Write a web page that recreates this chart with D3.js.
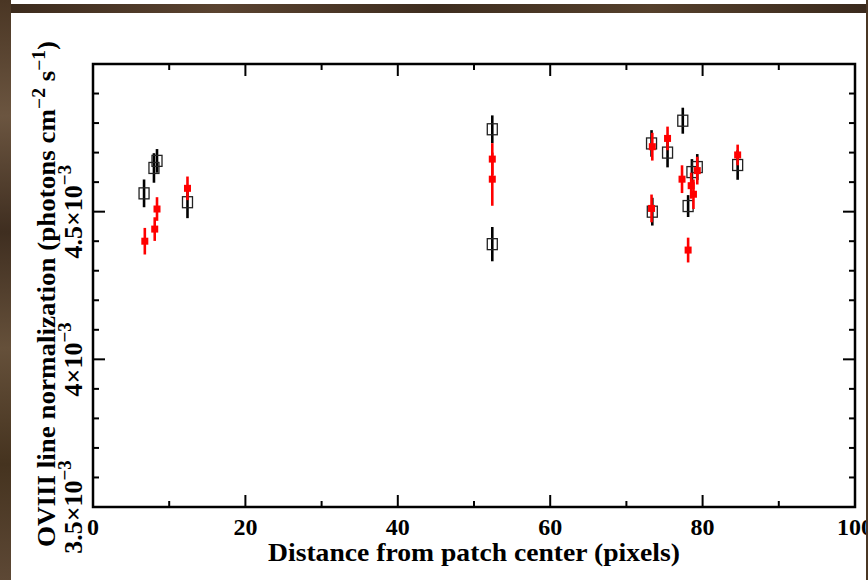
<!DOCTYPE html>
<html>
<head>
<meta charset="utf-8">
<script src="https://cdn.jsdelivr.net/npm/d3@7"></script>
<style>
  body { margin: 0; background: #fff; }
  svg text { font-family: "Liberation Serif", "DejaVu Serif", serif; font-weight: bold; fill: #000; }
</style>
</head>
<body>
<div id="chart"></div>
<script>
// black open squares: distance (pixels), normalization (1e-3), error (1e-3)
const blackX   = [6.7, 8.0, 8.4, 12.4, 52.4, 52.4, 77.4, 73.3, 75.4, 73.4, 78.1, 78.6, 79.3, 84.6]
const blackY   = [4.562, 4.648, 4.672, 4.532, 4.779, 4.390, 4.808, 4.731, 4.700, 4.500, 4.519, 4.634, 4.651, 4.658]
const blackErr = [0.047, 0.050, 0.040, 0.054, 0.047, 0.058, 0.044, 0.045, 0.050, 0.047, 0.037, 0.044, 0.044, 0.050]

// red filled squares
const redX   = [6.8, 8.4, 8.1, 12.4, 52.4, 52.4, 73.4, 75.4, 73.3, 77.3, 78.5, 78.8, 79.3, 78.1, 84.6]
const redY   = [4.400, 4.509, 4.441, 4.579, 4.678, 4.610, 4.720, 4.748, 4.511, 4.610, 4.588, 4.559, 4.639, 4.370, 4.692]
const redErr = [0.045, 0.040, 0.040, 0.040, 0.054, 0.090, 0.047, 0.040, 0.047, 0.047, 0.044, 0.050, 0.047, 0.042, 0.035]

const xMajorTicks = [0, 20, 40, 60, 80, 100]
const yMajorTicks = [3.5, 4, 4.5]
const yTickLabels = ['3.5×10', '4×10', '4.5×10']

const WIDTH = 868, HEIGHT = 580
const MARGIN = { top: 64, right: 13, bottom: 73, left: 93 }
const W = WIDTH - MARGIN.left - MARGIN.right
const H = HEIGHT - MARGIN.top - MARGIN.bottom

const svg = d3.select('#chart').append('svg').attr('width', WIDTH).attr('height', HEIGHT)

const x = d3.scaleLinear().domain([0, 100]).range([0, W])
const y = d3.scaleLinear().domain([3.5, 5.0]).range([H, 0])

const g = svg.append('g').attr('transform', `translate(${MARGIN.left},${MARGIN.top})`)

// ── ticks (inside, all four sides) ───────────────────────────────
const xMinor = d3.range(0, 101, 10)
const yMinor = d3.range(3.5, 5.0001, 0.1)
const tickStroke = (sel) => sel.attr('stroke', '#000').attr('stroke-width', 2)

g.selectAll('.xt').data(xMinor).join('line').attr('class', 'xt')
  .attr('x1', d => x(d)).attr('x2', d => x(d))
  .attr('y1', H).attr('y2', d => H - (d % 20 === 0 ? 12 : 6)).call(tickStroke)
g.selectAll('.xtt').data(xMinor).join('line').attr('class', 'xtt')
  .attr('x1', d => x(d)).attr('x2', d => x(d))
  .attr('y1', 0).attr('y2', d => (d % 20 === 0 ? 12 : 6)).call(tickStroke)

const isMajorY = d => Math.abs(d * 2 - Math.round(d * 2)) < 1e-6
g.selectAll('.yt').data(yMinor).join('line').attr('class', 'yt')
  .attr('y1', d => y(d)).attr('y2', d => y(d))
  .attr('x1', 0).attr('x2', d => (isMajorY(d) ? 12 : 6)).call(tickStroke)
g.selectAll('.ytr').data(yMinor).join('line').attr('class', 'ytr')
  .attr('y1', d => y(d)).attr('y2', d => y(d))
  .attr('x1', W).attr('x2', d => W - (isMajorY(d) ? 12 : 6)).call(tickStroke)

// frame
g.append('rect').attr('width', W).attr('height', H)
  .attr('fill', 'none').attr('stroke', '#000').attr('stroke-width', 2.5)

// ── tick labels ──────────────────────────────────────────────────
g.selectAll('.xl').data(xMajorTicks).join('text').attr('class', 'xl')
  .attr('x', d => x(d)).attr('y', H + 28)
  .attr('text-anchor', 'middle').style('font-size', '24px').text(d => d)

yMajorTicks.forEach((v, i) => {
  const t = g.append('text')
    .attr('transform', `translate(-11,${y(v)}) rotate(-90)`)
    .attr('text-anchor', 'middle').style('font-size', '26px')
  t.append('tspan').text(yTickLabels[i])
  t.append('tspan').attr('dy', -11).style('font-size', '19px').text('−3')
})

// axis titles
g.append('text').attr('x', W / 2).attr('y', H + 54)
  .attr('text-anchor', 'middle').style('font-size', '25px')
  .attr('textLength', 412).attr('lengthAdjust', 'spacingAndGlyphs')
  .text('Distance from patch center (pixels)')

const yl = svg.append('text')
  .attr('transform', 'translate(55,294) rotate(-90)')
  .attr('text-anchor', 'middle').style('font-size', '25px')
  .attr('textLength', 506).attr('lengthAdjust', 'spacingAndGlyphs')
yl.append('tspan').text('OVIII line normalization (photons cm')
yl.append('tspan').attr('dy', -10).style('font-size', '18px').text('−2')
yl.append('tspan').attr('dy', 10).text(' s')
yl.append('tspan').attr('dy', -10).style('font-size', '18px').text('−1')
yl.append('tspan').attr('dy', 10).text(')')

// ── data ─────────────────────────────────────────────────────────
const blackData = blackX.map((d, i) => ({ x: d, y: blackY[i], e: blackErr[i] }))
const redData = redX.map((d, i) => ({ x: d, y: redY[i], e: redErr[i] }))

const gB = g.append('g')
gB.selectAll('line').data(blackData).join('line')
  .attr('x1', d => x(d.x)).attr('x2', d => x(d.x))
  .attr('y1', d => y(d.y - d.e)).attr('y2', d => y(d.y + d.e))
  .attr('stroke', '#000').attr('stroke-width', 2.6)
gB.selectAll('rect').data(blackData).join('rect')
  .attr('x', d => x(d.x) - 5).attr('y', d => y(d.y) - 5.5)
  .attr('width', 10).attr('height', 11)
  .attr('fill', 'none').attr('stroke', '#222').attr('stroke-width', 1.3)

const gR = g.append('g')
gR.selectAll('line').data(redData).join('line')
  .attr('x1', d => x(d.x)).attr('x2', d => x(d.x))
  .attr('y1', d => y(d.y - d.e)).attr('y2', d => y(d.y + d.e))
  .attr('stroke', '#f00').attr('stroke-width', 2.6)
gR.selectAll('rect').data(redData).join('rect')
  .attr('x', d => x(d.x) - 3.5).attr('y', d => y(d.y) - 3.5)
  .attr('width', 7).attr('height', 7).attr('fill', '#f00')

// ── wooden frame edges ───────────────────────────────────────────
const defs = svg.append('defs')
const woodH = defs.append('linearGradient').attr('id', 'woodH').attr('x1', 0).attr('x2', 1).attr('y1', 0).attr('y2', 0)
;[['0%', '#3b2a1c'], ['25%', '#5a4330'], ['50%', '#3e2d1f'], ['75%', '#55402c'], ['100%', '#3a2a1d']]
  .forEach(([o, c]) => woodH.append('stop').attr('offset', o).attr('stop-color', c))
const woodV = defs.append('linearGradient').attr('id', 'woodV').attr('x1', 0).attr('x2', 0).attr('y1', 0).attr('y2', 1)
;[['0%', '#4a3624'], ['20%', '#6b5540'], ['40%', '#3f2e20'], ['60%', '#65503a'], ['80%', '#45331f'], ['100%', '#5d4835']]
  .forEach(([o, c]) => woodV.append('stop').attr('offset', o).attr('stop-color', c))

svg.append('rect').attr('x', 0).attr('y', 4).attr('width', WIDTH).attr('height', 9).attr('fill', 'url(#woodH)')
svg.append('rect').attr('x', 0).attr('y', 0).attr('width', 11).attr('height', HEIGHT).attr('fill', 'url(#woodV)')
svg.append('rect').attr('x', 866).attr('y', 0).attr('width', 2).attr('height', HEIGHT).attr('fill', '#4a3624')
</script>
</body>
</html>
